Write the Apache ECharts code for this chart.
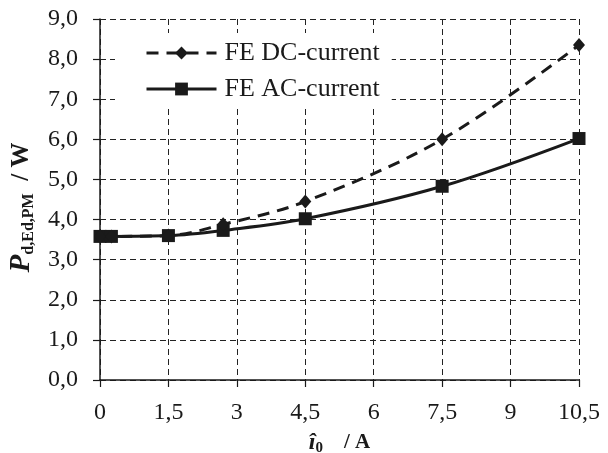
<!DOCTYPE html>
<html>
<head>
<meta charset="utf-8">
<script src="https://cdn.jsdelivr.net/npm/echarts@6/dist/echarts.min.js"></script>
<style>html,body{margin:0;padding:0;background:#fff;}#c{width:608px;height:453px;}</style>
</head>
<body>
<div id="c"></div>
<script>
const xValues = [0, 0.25, 1.5, 2.7, 4.5, 7.5, 10.5];
const dcValues = [3.58, 3.58, 3.6, 3.88, 4.45, 6.0, 8.35];
const acValues = [3.58, 3.58, 3.6, 3.73, 4.02, 4.83, 6.02];
const seriesNames = ['FE DC-current', 'FE AC-current'];

const FONT = '"Liberation Serif", "DejaVu Serif", serif';
const INK = '#1a1a1a';
const chart = echarts.init(document.getElementById('c'));
const pairs = (ys) => xValues.map((x, i) => [x, ys[i]]);

chart.setOption({
  animation: false,
  backgroundColor: '#fff',
  grid: { left: 100, right: 29, top: 19, bottom: 73, outerBoundsMode: 'none', containLabel: false },
  legend: {
    orient: 'vertical',
    left: 115, top: 33,
    padding: [7, 12, 7, 30],
    backgroundColor: '#fff',
    itemWidth: 70, itemHeight: 16, itemGap: 10,
    lineStyle: { width: 3 },
    textStyle: { fontFamily: FONT, fontSize: 26, color: INK, lineHeight: 26, padding: [0, 0, 0, 3] },
    data: seriesNames
  },
  xAxis: {
    type: 'value', min: 0, max: 10.5, interval: 1.5,
    name: '{i|î}{s|0}{n|    / A}',
    nameLocation: 'middle', nameGap: 50,
    nameTextStyle: {
      rich: {
        i: { fontFamily: FONT, fontSize: 24, fontWeight: 'bold', fontStyle: 'italic', color: INK, lineHeight: 26, verticalAlign: 'middle' },
        s: { fontFamily: FONT, fontSize: 15, fontWeight: 'bold', color: INK, lineHeight: 26, verticalAlign: 'bottom' },
        n: { fontFamily: FONT, fontSize: 21, fontWeight: 'bold', color: INK, lineHeight: 26, verticalAlign: 'middle' }
      }
    },
    axisLine: { lineStyle: { color: INK, width: 1.5 } },
    axisTick: { show: true, length: 7, lineStyle: { color: INK, width: 1.2 } },
    axisLabel: { fontFamily: FONT, fontSize: 24, color: INK, margin: 21,
      formatter: (v) => String(v).replace('.', ',') },
    splitLine: { show: true, lineStyle: { color: '#222', width: 1, type: [6, 4] } }
  },
  yAxis: {
    type: 'value', min: 0, max: 9, interval: 1,
    name: '{p|P}{s|d,Ed,PM}{n|  / W}',
    nameLocation: 'middle', nameGap: 56, nameRotate: 90,
    nameTextStyle: {
      rich: {
        p: { fontFamily: FONT, fontSize: 29, fontWeight: 'bold', fontStyle: 'italic', color: INK, lineHeight: 32, verticalAlign: 'middle' },
        s: { fontFamily: FONT, fontSize: 16, fontWeight: 'bold', color: INK, lineHeight: 32, verticalAlign: 'bottom' },
        n: { fontFamily: FONT, fontSize: 25, fontWeight: 'bold', color: INK, lineHeight: 32, verticalAlign: 'middle', padding: [0, 16, 0, 0] }
      }
    },
    axisLine: { show: true, lineStyle: { color: INK, width: 1.5 } },
    axisTick: { show: true, length: 7, lineStyle: { color: INK, width: 1.2 } },
    axisLabel: { fontFamily: FONT, fontSize: 24, color: INK, margin: 22,
      formatter: (v) => v.toFixed(1).replace('.', ',') },
    splitLine: { show: true, lineStyle: { color: '#222', width: 1, type: [6, 4] } }
  },
  series: [
    {
      name: seriesNames[0], type: 'line', smooth: 0.35,
      data: pairs(dcValues),
      symbol: 'diamond', symbolSize: [12, 14],
      lineStyle: { color: INK, width: 3, type: [12, 8] },
      itemStyle: { color: INK },
      z: 3
    },
    {
      name: seriesNames[1], type: 'line', smooth: 0.35,
      data: pairs(acValues),
      symbol: 'rect', symbolSize: 13,
      lineStyle: { color: INK, width: 3 },
      itemStyle: { color: INK },
      z: 2
    }
  ]
});
</script>
</body>
</html>
